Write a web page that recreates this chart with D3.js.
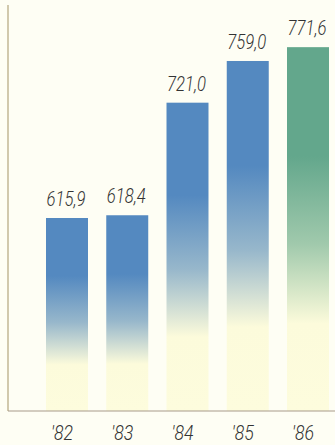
<!DOCTYPE html>
<html>
<head>
<meta charset="utf-8">
<script src="https://cdn.jsdelivr.net/npm/d3@7/dist/d3.min.js"></script>
<style>
  html, body { margin: 0; padding: 0; background: #fefef4; }
  svg { display: block; }
  text { font-family: "Roboto", "DejaVu Sans Condensed", sans-serif; font-weight: 300; font-style: italic; fill: #333; }
</style>
</head>
<body>
<svg id="chart" width="335" height="445"></svg>
<script>
// Annual totals, 1982–1986
const years = ["'82", "'83", "'84", "'85", "'86"];
const values = [615.9, 618.4, 721.0, 759.0, 771.6];
const valueLabels = ["615,9", "618,4", "721,0", "759,0", "771,6"];
const barTones = ["blue", "blue", "blue", "blue", "green"];

const left = 8, right = 335, baseY = 411;

const svg = d3.select("#chart");

const x = d3.scaleBand().domain(years).range([46, 329]).paddingInner(0.303).paddingOuter(0);
const y = d3.scaleLinear().domain([440, 800]).range([baseY, 16]);

// vertical fades from colour at the top to cream at the foot of each bar
const defs = svg.append("defs");
const tones = { blue: "#5489c0", green: "#63a78c" };
const cream = "#fcfbdb";
Object.entries(tones).forEach(([name, c]) => {
  const g = defs.append("linearGradient").attr("id", "fade-" + name)
    .attr("x1", 0).attr("y1", 0).attr("x2", 0).attr("y2", 1);
  g.append("stop").attr("offset", "0%").attr("stop-color", c);
  g.append("stop").attr("offset", "30%").attr("stop-color", c);
  g.append("stop").attr("offset", "54%").attr("stop-color", d3.interpolateRgb(c, cream)(0.4));
  g.append("stop").attr("offset", "76%").attr("stop-color", cream);
  g.append("stop").attr("offset", "100%").attr("stop-color", "#fdfcdd");
});

svg.append("g").selectAll("rect").data(values).join("rect")
  .attr("x", (d, i) => x(years[i]))
  .attr("width", x.bandwidth())
  .attr("y", d => y(d))
  .attr("height", d => baseY - y(d))
  .attr("fill", (d, i) => `url(#fade-${barTones[i]})`);

// value labels above the bars
svg.append("g").selectAll("text").data(values).join("text")
  .attr("x", (d, i) => x(years[i]) + x.bandwidth() / 2 - 1)
  .attr("y", d => y(d) - 12)
  .attr("text-anchor", "middle")
  .attr("font-size", 20)
  .attr("textLength", 39)
  .attr("lengthAdjust", "spacingAndGlyphs")
  .text((d, i) => valueLabels[i]);

// axes: left rule and baseline
svg.append("line").attr("x1", left).attr("x2", left).attr("y1", 5).attr("y2", baseY)
  .attr("stroke", "#b3a57c").attr("stroke-width", 1.2);
const xAxis = d3.axisBottom(x).tickSize(0).tickPadding(14);
const ax = svg.append("g").attr("transform", `translate(0,${baseY})`).call(xAxis);
ax.select(".domain").attr("d", `M${left},0H${right}`).attr("stroke", "#a8998a").attr("stroke-width", 1.2);
ax.selectAll("text").attr("font-size", 20).attr("dx", -5).attr("dy", "0.75em")
  .attr("textLength", 22).attr("lengthAdjust", "spacingAndGlyphs");
</script>
</body>
</html>
